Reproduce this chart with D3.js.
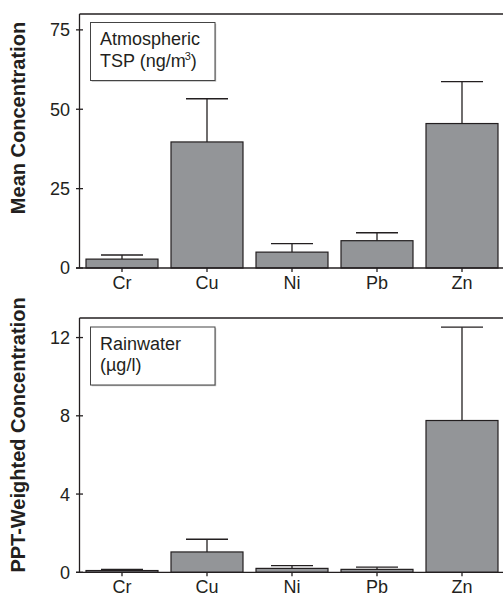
<!DOCTYPE html>
<html>
<head>
<meta charset="utf-8">
<script src="https://cdn.jsdelivr.net/npm/d3@7"></script>
<style>
html,body{margin:0;padding:0;background:#fff;}
svg{display:block;font-family:"Liberation Sans",Arial,Helvetica,sans-serif;}
</style>
</head>
<body>
<div id="chart"></div>
<script>
const categories = ["Cr", "Cu", "Ni", "Pb", "Zn"];
const tspMean = [2.8, 39.7, 5.0, 8.6, 45.5];
const tspUpper = [4.1, 53.3, 7.7, 11.1, 58.7];
const rainMean = [0.09, 1.04, 0.2, 0.15, 7.76];
const rainUpper = [0.15, 1.69, 0.34, 0.26, 12.53];
const tspTicks = [0, 25, 50, 75];
const rainTicks = [0, 4, 8, 12];

const W = 503, H = 597;
const ink = "#231f20", barFill = "#939598";
const svg = d3.select("#chart").append("svg").attr("width", W).attr("height", H);

const x = d3.scaleBand().domain(categories).range([79.5, 504.5])
  .paddingInner(0.153).paddingOuter(0.0765);

function panel(opts) {
  const {top, bottom, domainMax, means, uppers, ticks, title, titleY, legendLines, legendBox} = opts;
  const y = d3.scaleLinear().domain([0, domainMax]).range([bottom, top]);
  const g = svg.append("g");
  const left = x.range()[0];

  g.append("line").attr("x1", left).attr("x2", W).attr("y1", top).attr("y2", top)
    .attr("stroke", ink).attr("stroke-width", 1.3);
  g.append("line").attr("x1", left).attr("x2", left).attr("y1", top).attr("y2", bottom)
    .attr("stroke", ink).attr("stroke-width", 1.3);

  ticks.forEach(t => {
    g.append("line").attr("x1", left - 3.5).attr("x2", left + 3.5)
      .attr("y1", y(t)).attr("y2", y(t)).attr("stroke", ink).attr("stroke-width", 1.3);
    g.append("text").attr("x", left - 9.5).attr("y", y(t)).attr("dy", "0.36em")
      .attr("text-anchor", "end").attr("font-size", 18).attr("fill", ink).text(t);
  });

  categories.forEach((c, i) => {
    const cx = x(c) + x.bandwidth() / 2;
    g.append("line").attr("x1", cx).attr("x2", cx).attr("y1", y(means[i])).attr("y2", y(uppers[i]))
      .attr("stroke", ink).attr("stroke-width", 1.3);
    g.append("line").attr("x1", cx - 21).attr("x2", cx + 21).attr("y1", y(uppers[i])).attr("y2", y(uppers[i]))
      .attr("stroke", ink).attr("stroke-width", 1.3);
  });

  g.selectAll("rect.bar").data(categories).enter().append("rect")
    .attr("x", c => x(c)).attr("width", x.bandwidth())
    .attr("y", (c, i) => y(means[i])).attr("height", (c, i) => y(0) - y(means[i]))
    .attr("fill", barFill).attr("stroke", ink).attr("stroke-width", 1.2);

  g.append("line").attr("x1", left - 3.5).attr("x2", W).attr("y1", bottom).attr("y2", bottom)
    .attr("stroke", ink).attr("stroke-width", 1.3);

  categories.forEach(c => {
    const cx = x(c) + x.bandwidth() / 2;
    g.append("line").attr("x1", cx).attr("x2", cx).attr("y1", bottom).attr("y2", bottom + 4)
      .attr("stroke", ink).attr("stroke-width", 1.3);
    g.append("text").attr("x", cx).attr("y", bottom + 21).attr("text-anchor", "middle")
      .attr("font-size", 18).attr("fill", ink).text(c);
  });

  g.append("text").attr("transform", `translate(25,${titleY}) rotate(-90)`)
    .attr("text-anchor", "middle").attr("font-size", 20).attr("font-weight", "bold")
    .attr("fill", ink).text(title);

  g.append("rect").attr("x", legendBox[0] + 1.2).attr("y", legendBox[1] + 1.2)
    .attr("width", legendBox[2]).attr("height", legendBox[3]).attr("fill", "#bbb");
  g.append("rect").attr("x", legendBox[0]).attr("y", legendBox[1])
    .attr("width", legendBox[2]).attr("height", legendBox[3])
    .attr("fill", "#fff").attr("stroke", "#444").attr("stroke-width", 1);
  legendLines.forEach((ln, k) => ln(g, legendBox[0] + 9.5, legendBox[1] + 22.5 + k * 21.7));
}

panel({
  top: 14, bottom: 268, domainMax: 80, means: tspMean, uppers: tspUpper, ticks: tspTicks,
  title: "Mean Concentration", titleY: 118,
  legendBox: [90.5, 22.5, 124.5, 58],
  legendLines: [
    (g, lx, ly) => g.append("text").attr("x", lx).attr("y", ly).attr("font-size", 18).attr("fill", ink).text("Atmospheric"),
    (g, lx, ly) => {
      const t = g.append("text").attr("x", lx).attr("y", ly).attr("font-size", 18).attr("fill", ink);
      t.append("tspan").text("TSP (ng/m");
      t.append("tspan").attr("dx", -1).attr("dy", -7).attr("font-size", 11).text("3");
      t.append("tspan").attr("dy", 7).text(")");
    }
  ]
});

panel({
  top: 318, bottom: 572.3, domainMax: 13, means: rainMean, uppers: rainUpper, ticks: rainTicks,
  title: "PPT-Weighted Concentration", titleY: 435,
  legendBox: [90.5, 327, 124.5, 58],
  legendLines: [
    (g, lx, ly) => g.append("text").attr("x", lx).attr("y", ly).attr("font-size", 18).attr("fill", ink).text("Rainwater"),
    (g, lx, ly) => g.append("text").attr("x", lx).attr("y", ly).attr("font-size", 18).attr("fill", ink).text("(µg/l)")
  ]
});
</script>
</body>
</html>
